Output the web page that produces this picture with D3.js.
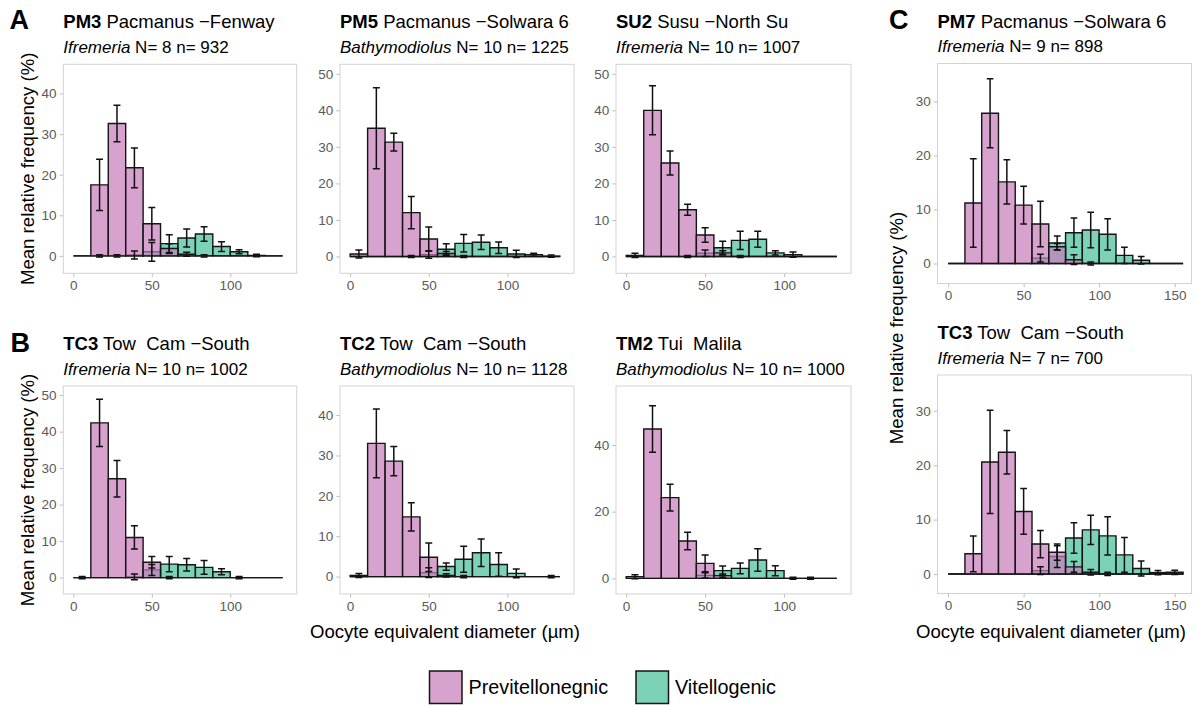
<!DOCTYPE html>
<html><head><meta charset="utf-8">
<script src="https://cdn.jsdelivr.net/npm/d3@7"></script>
<style>
body{margin:0;background:#fff;}
svg{display:block;font-family:"Liberation Sans",Arial,Helvetica,sans-serif;}
</style></head><body>
<svg id="chart" width="1196" height="706"></svg>
<script>
// ---------------- DATA ----------------
const binWidth = 11.1;
const bins12 = [5.6, 16.7, 27.8, 38.9, 50, 61.1, 72.2, 83.3, 94.4, 105.6, 116.7, 127.8];
const bins14 = [5.6, 16.7, 27.8, 38.9, 50, 61.1, 72.2, 83.3, 94.4, 105.6, 116.7, 127.8, 138.9, 150];
const seriesNames = ["Previtellonegnic", "Vitellogenic"];
const xTicks12 = [0, 50, 100];
const xTicks14 = [0, 50, 100, 150];

// PM3 Pacmanus - Fenway
const pm3Pre  = [0, 17.5, 32.6, 21.7, 7.9, 1.8, 0.4, 0, 0, 0, 0, 0];
const pm3PreE = [null, 6.3, 4.5, 4.9, 4.0, 1.2, 0.5, 0.3, null, null, null, null];
const pm3Vit  = [0, 0, 0, 0.2, 1.0, 3.0, 4.4, 5.4, 2.3, 1.0, 0.1, 0];
const pm3VitE = [null, 0.3, 0.3, 1.0, 2.3, 2.2, 2.2, 1.8, 1.2, 0.5, 0.3, null];
// PM5 Pacmanus - Solwara 6
const pm5Pre  = [0.7, 35.1, 31.3, 12.0, 4.8, 0.8, 0, 0, 0, 0, 0, 0];
const pm5PreE = [1.1, 11.1, 2.4, 4.4, 3.3, 0.6, 0.3, null, null, null, null, null];
const pm5Vit  = [0, 0, 0, 0, 0.5, 2.0, 3.6, 3.9, 2.4, 0.7, 0.5, 0.1];
const pm5VitE = [null, null, null, 0.3, 1.0, 1.5, 2.4, 2.0, 1.6, 1.0, 0.4, 0.3];
// SU2 Susu - North Su
const su2Pre  = [0.3, 40.0, 25.6, 12.8, 5.9, 1.0, 0, 0, 0, 0, 0, 0];
const su2PreE = [0.6, 6.7, 3.3, 1.5, 2.0, 0.6, 0.3, null, null, null, null, null];
const su2Vit  = [0, 0, 0, 0, 0.9, 2.4, 4.4, 4.7, 1.0, 0.5, 0, 0];
const su2VitE = [null, null, null, 0.3, 0.9, 1.8, 2.5, 2.2, 0.6, 0.7, null, null];
// TC3 Tow Cam - South (Ifremeria, left)
const tc3aPre  = [0, 42.4, 27.1, 11.0, 4.2, 0, 0, 0, 0, 0, 0, 0];
const tc3aPreE = [0.3, 6.5, 5.0, 3.2, 1.6, 0.3, null, null, null, 0.3, null, null];
const tc3aVit  = [0, 0, 0, 0.2, 2.1, 3.7, 3.5, 2.8, 1.6, 0, 0, 0];
const tc3aVitE = [null, null, null, 0.8, 1.5, 2.1, 1.7, 1.9, 0.8, null, null, null];
// TC2 Tow Cam - South
const tc2Pre  = [0.3, 33.0, 28.6, 14.8, 4.8, 0.3, 0, 0, 0, 0, 0, 0];
const tc2PreE = [0.5, 8.5, 3.6, 3.5, 3.5, 0.4, 0.3, null, null, null, null, null];
const tc2Vit  = [0, 0, 0, 0, 1.0, 2.5, 4.3, 5.9, 3.0, 0.8, 0, 0];
const tc2VitE = [null, null, null, null, 1.2, 0.9, 3.2, 3.4, 2.9, 1.1, null, 0.3];
// TM2 Tui Malila
const tm2Pre  = [0.5, 44.8, 24.2, 11.2, 4.5, 0.8, 0, 0, 0, 0, 0, 0];
const tm2PreE = [0.6, 7.0, 4.0, 2.6, 2.5, 0.5, null, null, null, 0.3, 0.3, null];
const tm2Vit  = [0, 0, 0, 0, 0.9, 2.3, 3.0, 5.5, 2.3, 0, 0, 0];
const tm2VitE = [null, null, null, null, 0.8, 1.4, 1.6, 3.4, 1.5, null, null, null];
// PM7 Pacmanus - Solwara 6
const pm7Pre  = [0, 11.2, 27.8, 15.1, 10.8, 7.3, 3.1, 0.7, 0, 0, 0, 0, 0, 0];
const pm7PreE = [null, 8.2, 6.4, 4.1, 3.5, 4.2, 0.6, 0.9, 0.3, null, null, null, null, null];
const pm7Vit  = [0, 0, 0, 0, 0, 1.0, 3.8, 5.7, 6.2, 5.4, 1.5, 0.6, 0, 0];
const pm7VitE = [null, null, null, null, null, 0.7, 1.3, 2.7, 3.3, 2.9, 1.5, 0.7, null, null];
// TC3 Tow Cam - South (Ifremeria, right)
const tc3bPre  = [0, 3.7, 20.6, 22.4, 11.5, 5.5, 4.0, 1.3, 0.3, 0, 0, 0, 0, 0];
const tc3bPreE = [null, 3.3, 9.5, 4.0, 4.2, 2.5, 1.5, 1.0, 0.5, 0.3, null, null, null, null];
const tc3bVit  = [0, 0, 0, 0, 0, 0.6, 3.2, 6.6, 8.1, 7.0, 3.5, 1.0, 0.25, 0.3];
const tc3bVitE = [null, null, null, null, null, 0.7, 2.0, 2.8, 2.7, 3.5, 3.2, 1.4, 0.4, 0.4];

// ---------------- LAYOUT ----------------
const colPre = "#C77ABA", colVit = "#44BF98", fillAlpha = 0.7;
const panels = [
  {code:"PM3", site:" Pacmanus −Fenway", genus:"Ifremeria", counts:" N= 8 n= 932",
   box:{x:63.3,y:64.3,w:233.4,h:209}, xd:[-6.4,142.3], yd:[-4.3,47.2], yt:[0,10,20,30,40],
   bins:bins12, xt:xTicks12, pre:pm3Pre, preE:pm3PreE, vit:pm3Vit, vitE:pm3VitE},
  {code:"PM5", site:" Pacmanus −Solwara 6", genus:"Bathymodiolus", counts:" N= 10 n= 1225",
   box:{x:340,y:64.3,w:234,h:209}, xd:[-6.4,142.3], yd:[-4.6,52.6], yt:[0,10,20,30,40,50],
   bins:bins12, xt:xTicks12, pre:pm5Pre, preE:pm5PreE, vit:pm5Vit, vitE:pm5VitE},
  {code:"SU2", site:" Susu −North Su", genus:"Ifremeria", counts:" N= 10 n= 1007",
   box:{x:616,y:64.3,w:235,h:209}, xd:[-6.4,142.3], yd:[-4.6,52.6], yt:[0,10,20,30,40,50],
   bins:bins12, xt:xTicks12, pre:su2Pre, preE:su2PreE, vit:su2Vit, vitE:su2VitE},
  {code:"TC3", site:" Tow  Cam −South", genus:"Ifremeria", counts:" N= 10 n= 1002",
   box:{x:63.3,y:386,w:233.4,h:208}, xd:[-6.4,142.3], yd:[-4.5,52.5], yt:[0,10,20,30,40,50],
   bins:bins12, xt:xTicks12, pre:tc3aPre, preE:tc3aPreE, vit:tc3aVit, vitE:tc3aVitE},
  {code:"TC2", site:" Tow  Cam −South", genus:"Bathymodiolus", counts:" N= 10 n= 1128",
   box:{x:340,y:386,w:234,h:208}, xd:[-6.4,142.3], yd:[-4.3,47.2], yt:[0,10,20,30,40],
   bins:bins12, xt:xTicks12, pre:tc2Pre, preE:tc2PreE, vit:tc2Vit, vitE:tc2VitE},
  {code:"TM2", site:" Tui  Malila", genus:"Bathymodiolus", counts:" N= 10 n= 1000",
   box:{x:616,y:386,w:235,h:208}, xd:[-6.4,142.3], yd:[-4.7,57.7], yt:[0,20,40],
   bins:bins12, xt:xTicks12, pre:tm2Pre, preE:tm2PreE, vit:tm2Vit, vitE:tm2VitE},
  {code:"PM7", site:" Pacmanus −Solwara 6", genus:"Ifremeria", counts:" N= 9 n= 898",
   box:{x:937.5,y:63.5,w:254,h:220}, xd:[-7.0,161.1], yd:[-3.7,37.0], yt:[0,10,20,30],
   bins:bins14, xt:xTicks14, pre:pm7Pre, preE:pm7PreE, vit:pm7Vit, vitE:pm7VitE},
  {code:"TC3", site:" Tow  Cam −South", genus:"Ifremeria", counts:" N= 7 n= 700",
   box:{x:937.5,y:375,w:254,h:218.5}, xd:[-7.0,161.1], yd:[-3.6,36.6], yt:[0,10,20,30],
   bins:bins14, xt:xTicks14, pre:tc3bPre, preE:tc3bPreE, vit:tc3bVit, vitE:tc3bVitE}
];

const svg = d3.select("#chart");
svg.append("rect").attr("width",1196).attr("height",706).attr("fill","#fff");

function barPath(xs, ys, c, v) {
  const x0 = xs(c - binWidth/2), x1 = xs(c + binWidth/2), y0 = ys(0), y1 = ys(v);
  return `M${x0},${y0}V${y1}H${x1}V${y0}Z`;
}

panels.forEach(p => {
  const g = svg.append("g");
  const b = p.box;
  const xs = d3.scaleLinear().domain(p.xd).range([b.x, b.x + b.w]);
  const ys = d3.scaleLinear().domain(p.yd).range([b.y + b.h, b.y]);

  // titles
  const t = g.append("text").attr("x", b.x).attr("y", b.y - 36).attr("font-size", 18.5)
     .attr("fill", "#000").style("white-space", "pre");
  t.append("tspan").attr("font-weight", "bold").text(p.code);
  t.append("tspan").text(p.site);
  const s = g.append("text").attr("x", b.x).attr("y", b.y - 11.5)
     .attr("font-size", 17).attr("fill", "#000").style("white-space", "pre");
  s.append("tspan").attr("font-style", "italic").text(p.genus);
  s.append("tspan").text(p.counts);

  // axes
  const xa = g.append("g").attr("transform", `translate(0,${b.y + b.h})`)
     .call(d3.axisBottom(xs).tickValues(p.xt).tickSize(3.7).tickPadding(3.5).tickFormat(d3.format("d")));
  const ya = g.append("g").attr("transform", `translate(${b.x},0)`)
     .call(d3.axisLeft(ys).tickValues(p.yt).tickSize(3.7).tickPadding(3).tickFormat(d3.format("d")));
  [xa, ya].forEach(a => {
    a.select(".domain").remove();
    a.selectAll("line").attr("stroke", "#BDBDBD").attr("stroke-width", 1);
    a.selectAll("text").attr("fill", "#5A5A5A").attr("font-size", 13.5)
      .attr("font-family", '"Liberation Sans",Arial,sans-serif');
  });

  // border
  g.append("rect").attr("x", b.x).attr("y", b.y).attr("width", b.w).attr("height", b.h)
    .attr("fill", "none").attr("stroke", "#D3D3D3").attr("stroke-width", 1);

  // bars: vitellogenic first, previtellogenic on top
  const series = [
    {vals:p.vit, errs:p.vitE, col:colVit},
    {vals:p.pre, errs:p.preE, col:colPre}
  ];
  series.forEach(se => {
    g.append("g").selectAll("path").data(p.bins.map((c,i)=>({c, v:se.vals[i]})))
      .join("path").attr("d", d => barPath(xs, ys, d.c, d.v))
      .attr("fill", se.col).attr("fill-opacity", fillAlpha)
      .attr("stroke", "#151515").attr("stroke-width", 1.4).attr("stroke-linejoin", "miter");
  });
  // error bars
  const capHalf = binWidth * 0.2;
  series.forEach(se => {
    const eg = g.append("g").attr("stroke", "#111").attr("stroke-width", 1.5).attr("fill", "none");
    p.bins.forEach((c, i) => {
      const e = se.errs[i];
      if (e === null) return;
      const v = se.vals[i];
      eg.append("path").attr("d",
        `M${xs(c - capHalf)},${ys(v + e)}H${xs(c + capHalf)}` +
        `M${xs(c)},${ys(v + e)}V${ys(v - e)}` +
        `M${xs(c - capHalf)},${ys(v - e)}H${xs(c + capHalf)}`);
    });
  });
});

// panel letters
[["A", 9.5, 29], ["B", 10.5, 351.5], ["C", 889, 29]].forEach(([l, x, y]) => {
  svg.append("text").attr("x", x).attr("y", y).attr("font-size", 27).attr("font-weight", "bold").text(l);
});

// axis titles
const axisTitleSize = 18.6;
[[34, 168.8], [34, 490], [902.5, 328]].forEach(([x, y]) => {
  svg.append("text").attr("transform", `translate(${x},${y}) rotate(-90)`)
    .attr("text-anchor", "middle").attr("font-size", axisTitleSize).text("Mean relative frequency (%)");
});
[[445, 638], [1051, 638]].forEach(([x, y]) => {
  svg.append("text").attr("x", x).attr("y", y).attr("text-anchor", "middle")
    .attr("font-size", axisTitleSize).text("Oocyte equivalent diameter (µm)");
});

// legend
const legendCols = [colPre, colVit];
const legendX = [429.5, 636];
seriesNames.forEach((n, i) => {
  const lg = svg.append("g").attr("transform", `translate(${legendX[i]},671)`);
  lg.append("rect").attr("width", 32.5).attr("height", 32.5).attr("fill", legendCols[i])
    .attr("fill-opacity", fillAlpha).attr("stroke", "#151515").attr("stroke-width", 1.5);
  lg.append("text").attr("x", 39).attr("y", 23.3).attr("font-size", 19.8).text(n);
});
</script>
</body></html>
